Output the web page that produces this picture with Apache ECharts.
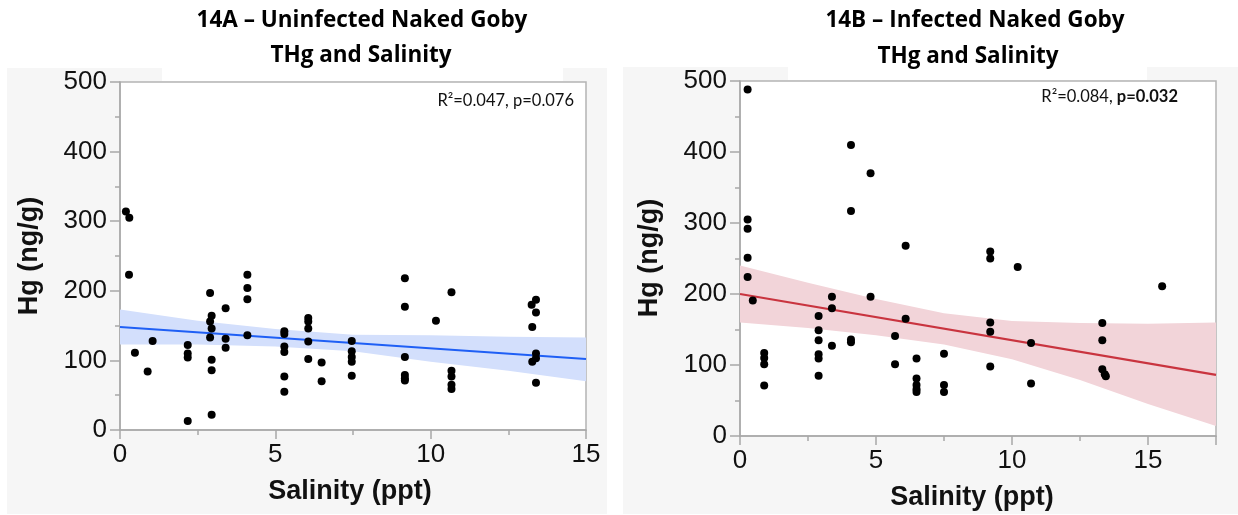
<!DOCTYPE html>
<html>
<head>
<meta charset="utf-8">
<title>THg and Salinity – Naked Goby</title>
<script src="https://cdn.jsdelivr.net/npm/echarts@6/dist/echarts.min.js"></script>
<style>
  html, body { margin: 0; padding: 0; background: #ffffff; }
  #chart { width: 1238px; height: 515px; }
</style>
</head>
<body>
<div id="chart"></div>
<script>
// ---- Panel A: uninfected naked goby, [salinity (ppt), THg (ng/g)] ----
const uninfectedPoints = [
  [0.19, 314], [0.30, 305], [0.29, 223], [0.48, 111], [1.05, 128], [0.89, 84],
  [2.18, 122], [2.18, 110], [2.18, 104], [2.18, 13],
  [2.90, 197], [2.95, 164], [2.90, 156], [2.95, 146], [2.90, 133], [2.95, 101], [2.95, 86], [2.95, 22],
  [3.40, 175], [3.40, 131], [3.40, 118],
  [4.10, 223], [4.10, 204], [4.10, 188], [4.10, 136],
  [5.29, 142], [5.29, 138], [5.29, 120], [5.29, 112], [5.29, 77], [5.29, 55],
  [6.06, 161], [6.06, 156], [6.06, 146], [6.06, 127], [6.06, 102],
  [6.49, 97], [6.49, 70],
  [7.46, 128], [7.46, 113], [7.46, 105], [7.46, 98], [7.46, 78],
  [9.17, 218], [9.17, 177], [9.17, 105], [9.17, 79], [9.17, 74], [9.17, 71],
  [10.17, 157],
  [10.67, 198], [10.67, 85], [10.67, 77], [10.67, 65], [10.67, 59],
  [13.39, 187], [13.25, 180], [13.39, 169], [13.27, 148], [13.39, 110], [13.39, 103], [13.27, 98], [13.39, 68]
];
const uninfectedFit = [[0, 148], [15, 102]];
const uninfectedBandX = [0, 2.5, 5, 7.5, 10, 12.5, 15];
const uninfectedBandUpper = [173, 157, 145, 137, 136, 134, 133];
const uninfectedBandLower = [123, 123, 120, 113, 98, 85, 70];

// ---- Panel B: infected naked goby ----
const infectedPoints = [
  [0.28, 488], [0.28, 305], [0.28, 292], [0.28, 251], [0.28, 224], [0.47, 191],
  [0.89, 117], [0.89, 110], [0.89, 101], [0.89, 71],
  [2.89, 169], [2.89, 149], [2.89, 135], [2.89, 115], [2.89, 109], [2.89, 85],
  [3.38, 196], [3.38, 180], [3.38, 127],
  [4.08, 410], [4.08, 317], [4.08, 136], [4.08, 132],
  [4.80, 370], [4.80, 196],
  [5.70, 141], [5.70, 101],
  [6.09, 268], [6.09, 165],
  [6.49, 109], [6.49, 81], [6.49, 72], [6.49, 66], [6.49, 62],
  [7.50, 116], [7.50, 72], [7.50, 62],
  [9.20, 260], [9.20, 250], [9.20, 160], [9.20, 147], [9.20, 98],
  [10.21, 238], [10.70, 131], [10.70, 74],
  [13.32, 159], [13.32, 135], [13.32, 94], [13.41, 87], [13.45, 84],
  [15.52, 211]
];
const infectedFit = [[0, 200], [17.5, 86]];
const infectedBandX = [0, 2.5, 5, 7.5, 10, 12.5, 15, 17.5];
const infectedBandUpper = [240, 216, 193, 173, 162, 159, 158, 160];
const infectedBandLower = [160, 152, 142, 129, 108, 79, 45, 14];

// ---- Axis ticks ----
const hgTicks = { min: 0, max: 500, interval: 100 };
const salinityTicksA = { min: 0, max: 15, interval: 5 };
const salinityTicksB = { min: 0, max: 17.5, interval: 5 };

const TXT = '#111111';
const AXIS_GREY = '#a8a8a8';
const NUM_FONT = 'Liberation Sans, Arial, sans-serif';
const TITLE_FONT = '"Open Sans", Lato, sans-serif';
const NOTE_FONT = 'Lato, "Open Sans", sans-serif';

function xAxisFor(gridIndex, ticks) {
  return {
    type: 'value', gridIndex, min: ticks.min, max: ticks.max, interval: ticks.interval,
    axisLine: { show: true, lineStyle: { color: AXIS_GREY, width: 1.5 } },
    axisTick: { show: true, length: 9, lineStyle: { color: AXIS_GREY, width: 1.5 } },
    minorTick: { show: true, splitNumber: 2, length: 5, lineStyle: { color: AXIS_GREY, width: 1.5 } },
    splitLine: { show: false },
    axisLabel: {
      color: TXT, fontFamily: NUM_FONT, fontSize: 26, margin: 12,
      formatter: v => (v % ticks.interval === 0 ? String(v) : '')
    }
  };
}
function yAxisFor(gridIndex) {
  return {
    type: 'value', gridIndex, min: hgTicks.min, max: hgTicks.max, interval: hgTicks.interval,
    axisLine: { show: true, lineStyle: { color: AXIS_GREY, width: 1.5 } },
    axisTick: { show: true, length: 10, lineStyle: { color: AXIS_GREY, width: 1.5 } },
    minorTick: { show: true, splitNumber: 2, length: 5, lineStyle: { color: AXIS_GREY, width: 1.5 } },
    splitLine: { show: false },
    axisLabel: { color: TXT, fontFamily: NUM_FONT, fontSize: 26, margin: 13 }
  };
}

// Confidence band drawn as one filled polygon: upper edge left→right, lower edge right→left
function bandSeries(idx, xs, lower, upper, color) {
  return {
    type: 'custom', xAxisIndex: idx, yAxisIndex: idx, silent: true, z: 1,
    data: xs.map((x, i) => [x, lower[i], upper[i]]),
    encode: { x: 0, y: [1, 2] },
    renderItem: (params, api) => {
      if (params.dataIndex !== 0) return null;
      const top = xs.map((x, i) => api.coord([x, upper[i]]));
      const bottom = xs.map((x, i) => api.coord([x, lower[i]])).reverse();
      return {
        type: 'polygon',
        shape: { points: top.concat(bottom) },
        style: { fill: color }
      };
    }
  };
}

const chart = echarts.init(document.getElementById('chart'), null, { renderer: 'canvas' });

const option = {
  animation: false,
  backgroundColor: '#ffffff',
  grid: [
    { left: 120, top: 82, width: 466, height: 348, show: true, backgroundColor: '#ffffff', borderColor: '#b4b4b4', borderWidth: 1.5 },
    { left: 740, top: 81, width: 476, height: 355, show: true, backgroundColor: '#ffffff', borderColor: '#b4b4b4', borderWidth: 1.5 }
  ],
  xAxis: [xAxisFor(0, salinityTicksA), xAxisFor(1, salinityTicksB)],
  yAxis: [yAxisFor(0), yAxisFor(1)],
  graphic: {
    elements: [
      // grey panels behind each plot
      { type: 'rect', z: -100, silent: true, shape: { x: 7, y: 68, width: 600, height: 446 }, style: { fill: '#f6f6f6' } },
      { type: 'rect', z: -100, silent: true, shape: { x: 623, y: 67, width: 615, height: 447 }, style: { fill: '#f6f6f6' } },
      // white heading strips
      { type: 'rect', z: -90, silent: true, shape: { x: 162, y: 60, width: 401, height: 21 }, style: { fill: '#ffffff' } },
      { type: 'rect', z: -90, silent: true, shape: { x: 788, y: 60, width: 359, height: 20 }, style: { fill: '#ffffff' } },
      // headings
      { type: 'text', x: 362, y: 21, z: 50, style: { text: '14A – Uninfected Naked Goby', fill: '#000', font: 'bold 22.5px ' + TITLE_FONT, textAlign: 'center', textVerticalAlign: 'middle' } },
      { type: 'text', x: 361, y: 56, z: 50, style: { text: 'THg and Salinity', fill: '#000', font: 'bold 22.5px ' + TITLE_FONT, textAlign: 'center', textVerticalAlign: 'middle' } },
      { type: 'text', x: 975, y: 21, z: 50, style: { text: '14B – Infected Naked Goby', fill: '#000', font: 'bold 22.5px ' + TITLE_FONT, textAlign: 'center', textVerticalAlign: 'middle' } },
      { type: 'text', x: 968, y: 57, z: 50, style: { text: 'THg and Salinity', fill: '#000', font: 'bold 22.5px ' + TITLE_FONT, textAlign: 'center', textVerticalAlign: 'middle' } },
      // axis titles
      { type: 'text', x: 30, y: 256, rotation: Math.PI / 2, z: 50, style: { text: 'Hg (ng/g)', fill: TXT, font: 'bold 27px ' + NUM_FONT, textAlign: 'center', textVerticalAlign: 'middle' } },
      { type: 'text', x: 650, y: 258, rotation: Math.PI / 2, z: 50, style: { text: 'Hg (ng/g)', fill: TXT, font: 'bold 27px ' + NUM_FONT, textAlign: 'center', textVerticalAlign: 'middle' } },
      { type: 'text', x: 350, y: 492, z: 50, style: { text: 'Salinity (ppt)', fill: TXT, font: 'bold 27px ' + NUM_FONT, textAlign: 'center', textVerticalAlign: 'middle' } },
      { type: 'text', x: 972, y: 498, z: 50, style: { text: 'Salinity (ppt)', fill: TXT, font: 'bold 27px ' + NUM_FONT, textAlign: 'center', textVerticalAlign: 'middle' } },
      // regression statistics
      { type: 'text', x: 574, y: 101, z: 50, style: {
          text: '{n|R²=0.047, p=0.076}', textAlign: 'right', textVerticalAlign: 'middle',
          rich: { n: { fill: '#111', font: '16.5px ' + NOTE_FONT } } } },
      { type: 'text', x: 1178, y: 97, z: 50, style: {
          text: '{n|R²=0.084, }{b|p=0.032}', textAlign: 'right', textVerticalAlign: 'middle',
          rich: { n: { fill: '#111', font: '16.5px ' + NOTE_FONT }, b: { fill: '#111', font: 'bold 16.5px ' + NOTE_FONT } } } }
    ]
  },
  series: [
    bandSeries(0, uninfectedBandX, uninfectedBandLower, uninfectedBandUpper, '#d3dffc'),
    {
      type: 'line', xAxisIndex: 0, yAxisIndex: 0, data: uninfectedFit, symbol: 'none',
      lineStyle: { color: '#1f5ff5', width: 2.2 }, z: 2, silent: true
    },
    {
      type: 'scatter', xAxisIndex: 0, yAxisIndex: 0, data: uninfectedPoints,
      symbol: 'circle', symbolSize: 8, itemStyle: { color: '#000000', opacity: 1 }, z: 3
    },
    bandSeries(1, infectedBandX, infectedBandLower, infectedBandUpper, '#f2d4d9'),
    {
      type: 'line', xAxisIndex: 1, yAxisIndex: 1, data: infectedFit, symbol: 'none',
      lineStyle: { color: '#c9343f', width: 2.2 }, z: 2, silent: true
    },
    {
      type: 'scatter', xAxisIndex: 1, yAxisIndex: 1, data: infectedPoints,
      symbol: 'circle', symbolSize: 8, itemStyle: { color: '#000000', opacity: 1 }, z: 3
    }
  ]
};

chart.setOption(option);
</script>
</body>
</html>
